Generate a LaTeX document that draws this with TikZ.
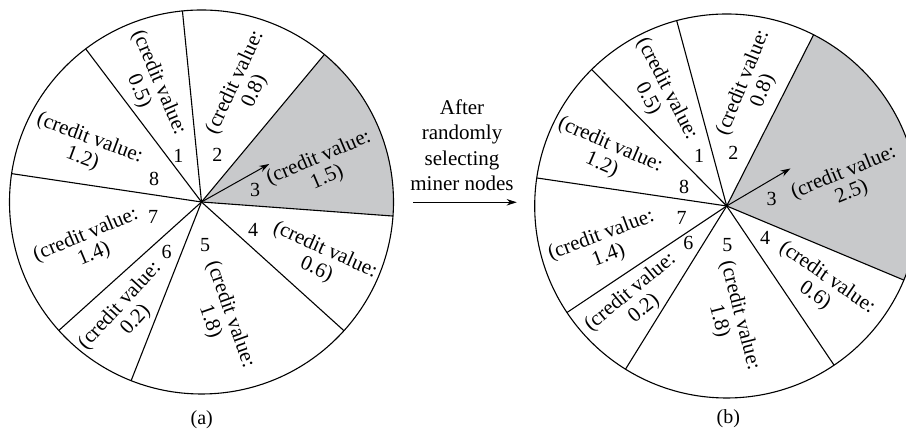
\documentclass[tikz,border=0pt]{standalone}
\usepackage{fontspec}
\setmainfont{Liberation Serif}
\usetikzlibrary{arrows.meta}
\definecolor{sliceshade}{RGB}{200,201,203}
\begin{document}
\begin{tikzpicture}[x=1pt,y=1pt,
  rim/.style={line width=1.1pt},
  spoke/.style={line width=1.1pt},
  credit/.style={align=center, inner sep=0pt,
    font=\fontsize{21}{21.5}\selectfont},
  num/.style={inner sep=0pt, font=\fontsize{20}{21.5}\selectfont},
  caption/.style={inner sep=0pt, font=\fontsize{20}{21.5}\selectfont},
  middle/.style={align=center, inner sep=0pt,
    font=\fontsize{21}{25.5}\selectfont},
  pointer/.style={line width=1pt, -{Stealth[length=10pt,width=6.5pt]}}]
\useasboundingbox (0,0) rectangle (906,430);
\clip (0,0) rectangle (906,430);

% ---------- wheel (a) ----------
\coordinate (La) at (201.5,228);
\fill[sliceshade] (La) -- ++(-4.2:192)
  arc[start angle=-4.2, end angle=50.2, radius=192] -- cycle;
\foreach \a in {50.2,95.7,127.1,171.5,222,248.5,317.9,355.8}
  \draw[spoke] (La) -- ++(\a:192);
\draw[rim] (La) circle[radius=192];
\path (La) ++(29.3:77.7) coordinate (Lp);
\draw[pointer] (La) -- (Lp);

\node[credit, rotate=-67]   (La1) at (148.7,343)   {(credit value:\\0.5)};
\node[credit, rotate=65]    (La2) at (245,343)     {(credit value:\\0.8)};
\node[credit, rotate=23]    (La3) at (323,262)     {(credit value:\\1.5)};
\node[credit, rotate=-24]   (La4) at (320.7,170)   {(credit value:\\0.6)};
\node[credit, rotate=-70.5] (La5) at (220,112)     {(credit value:\\1.8)};
\node[credit, rotate=47.4]  (La6) at (128,117)     {(credit value:\\0.2)};
\node[credit, rotate=22.8]  (La7) at (90,185)      {(credit value:\\1.4)};
\node[credit, rotate=-20.4] (La8) at (86,281.3)    {(credit value:\\1.2)};

\node[num] (Ln1) at (178.3,274)   {1};
\node[num] (Ln2) at (217.3,275)   {2};
\node[num] (Ln3) at (255,240)     {3};
\node[num] (Ln4) at (253,200)     {4};
\node[num] (Ln5) at (205,185)     {5};
\node[num] (Ln6) at (166.7,178.3) {6};
\node[num] (Ln7) at (153,213.3)   {7};
\node[num] (Ln8) at (154,250.7)   {8};

\node[caption] (Lcap) at (201.7,10.7) {(a)};

% ---------- transition ----------
\node[middle] (step) at (462,285) {After\\randomly\\selecting\\miner nodes};
\coordinate (Ms) at (413.3,227.7);
\coordinate (Me) at (516.7,227.7);
\draw[pointer] (Ms) -- (Me);

% ---------- wheel (b) ----------
\coordinate (Ra) at (726.7,224);
\fill[sliceshade] (Ra) -- ++(-22.7:192)
  arc[start angle=-22.7, end angle=63.1, radius=192] -- cycle;
\foreach \a in {63.1,105.1,134.7,171.6,213.7,238.2,304,337.3}
  \draw[spoke] (Ra) -- ++(\a:192);
\draw[rim] (Ra) circle[radius=192];
\path (Ra) ++(30.5:74) coordinate (Rp);
\draw[pointer] (Ra) -- (Rp);

\node[credit, rotate=-62.7] (Rb1) at (657.3,336)   {(credit value:\\0.5)};
\node[credit, rotate=68]    (Rb2) at (753.3,343.3) {(credit value:\\0.8)};
\node[credit, rotate=22.3]  (Rb3) at (847.7,247)   {(credit value:\\2.5)};
\node[credit, rotate=-34.6] (Rb4) at (821,143.3)   {(credit value:\\0.6)};
\node[credit, rotate=-75.5] (Rb5) at (729.3,111.7) {(credit value:\\1.8)};
\node[credit, rotate=39.6]  (Rb6) at (637.3,129.3) {(credit value:\\0.2)};
\node[credit, rotate=20.4]  (Rb7) at (605,184.3)   {(credit value:\\1.4)};
\node[credit, rotate=-23.4] (Rb8) at (606,275)     {(credit value:\\1.2)};

\node[num] (Rn1) at (699,274)     {1};
\node[num] (Rn2) at (733.3,277.3) {2};
\node[num] (Rn3) at (771.7,230.7) {3};
\node[num] (Rn4) at (765,191.7)   {4};
\node[num] (Rn5) at (727.3,185)   {5};
\node[num] (Rn6) at (688.3,186.7) {6};
\node[num] (Rn7) at (681.7,211.7) {7};
\node[num] (Rn8) at (684,242.7)   {8};

\node[caption] (Rcap) at (728.3,11.7) {(b)};
\end{tikzpicture}
\end{document}
